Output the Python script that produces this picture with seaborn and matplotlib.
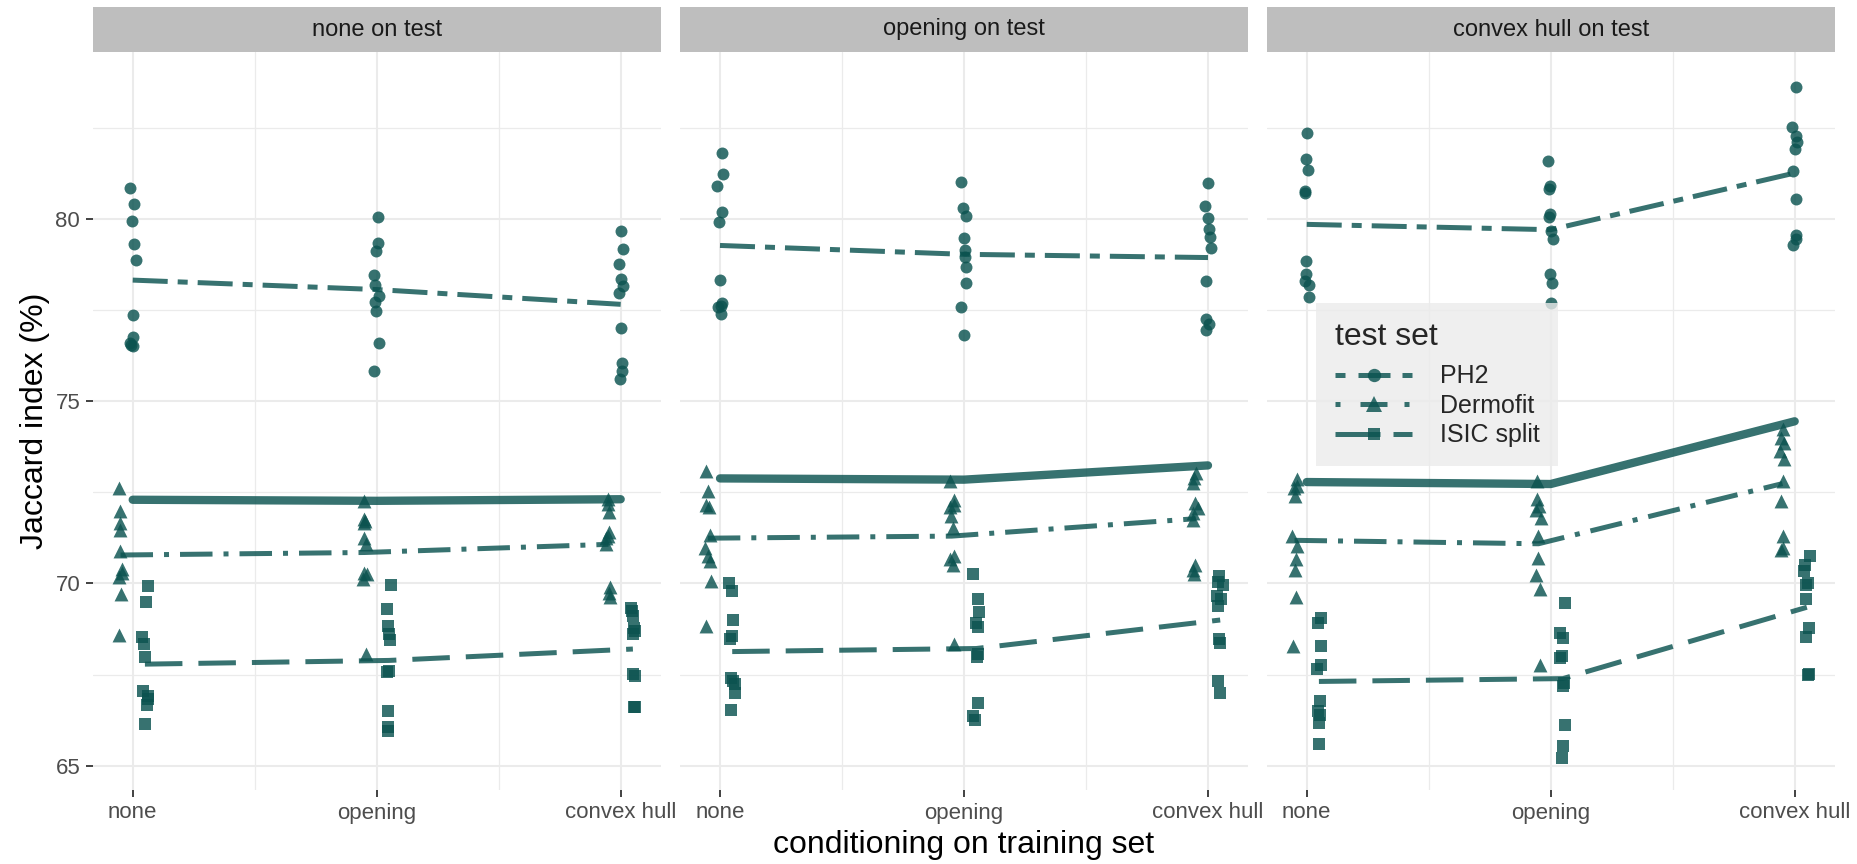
import numpy as np
import pandas as pd
import matplotlib
matplotlib.use("Agg")
import matplotlib.pyplot as plt
import seaborn as sns
from matplotlib.lines import Line2D

conditions = ["none", "opening", "convex hull"]
test_sets = ["PH2", "Dermofit", "ISIC split"]
panels = ["none on test", "opening on test", "convex hull on test"]

# Jaccard index (%) of the 10 runs, one list per training condition (none, opening, convex hull)
ph2_none = [[80.86, 80.43, 79.96, 79.31, 78.89, 77.38, 76.77, 76.61, 76.56, 76.51],
            [80.07, 79.35, 79.12, 78.47, 78.18, 77.88, 77.74, 77.47, 76.59, 75.82],
            [79.67, 79.18, 78.77, 78.36, 78.17, 77.97, 77.02, 76.05, 75.84, 75.60]]
derm_none = [[72.63, 71.99, 71.67, 71.46, 70.90, 70.39, 70.30, 70.18, 69.71, 68.58],
             [72.27, 71.76, 71.72, 71.67, 71.26, 71.08, 70.30, 70.26, 70.12, 68.06],
             [72.31, 72.18, 71.95, 71.40, 71.30, 71.26, 71.08, 69.89, 69.75, 69.62]]
isic_none = [[69.94, 69.48, 68.52, 68.34, 67.97, 67.06, 66.92, 66.83, 66.65, 66.14],
             [69.96, 69.30, 68.84, 68.61, 68.45, 67.61, 67.56, 66.51, 66.07, 65.96],
             [69.34, 69.25, 69.11, 68.79, 68.70, 68.61, 67.51, 67.47, 66.62, 66.60]]

ph2_opening = [[81.83, 81.24, 80.91, 80.21, 79.93, 78.33, 77.71, 77.62, 77.60, 77.41],
               [81.03, 80.30, 80.09, 79.48, 79.15, 78.95, 78.70, 78.26, 77.58, 76.82],
               [80.99, 80.35, 80.02, 79.74, 79.50, 79.22, 78.31, 77.26, 77.12, 76.96]]
derm_opening = [[73.08, 72.53, 72.16, 72.09, 71.34, 70.98, 70.75, 70.61, 70.06, 68.83],
                [72.80, 72.30, 72.16, 72.09, 71.84, 71.53, 70.75, 70.66, 70.52, 68.35],
                [73.03, 72.89, 72.76, 72.21, 72.07, 71.94, 71.73, 70.52, 70.38, 70.25]]
isic_opening = [[70.02, 69.79, 68.99, 68.56, 68.47, 67.40, 67.32, 67.23, 67.00, 66.52],
                [70.26, 69.56, 69.22, 68.92, 68.80, 68.05, 67.98, 66.73, 66.37, 66.25],
                [70.20, 70.05, 69.97, 69.65, 69.56, 69.38, 68.47, 68.37, 67.32, 67.00]]

ph2_hull = [[82.38, 81.65, 81.35, 80.78, 80.73, 78.85, 78.49, 78.30, 78.19, 77.86],
            [81.60, 80.92, 80.82, 80.14, 80.05, 79.68, 79.45, 78.49, 78.26, 77.71],
            [83.64, 82.52, 82.29, 82.11, 81.92, 81.33, 80.55, 79.57, 79.45, 79.29]]
derm_hull = [[72.86, 72.67, 72.63, 72.40, 71.30, 71.03, 70.66, 70.38, 69.63, 68.28],
             [72.81, 72.31, 72.12, 72.01, 71.80, 71.30, 70.71, 70.23, 69.84, 67.77],
             [74.23, 74.00, 73.86, 73.64, 73.41, 72.81, 72.26, 71.30, 70.98, 70.93]]
isic_hull = [[69.06, 68.92, 68.28, 67.77, 67.64, 66.77, 66.51, 66.38, 66.17, 65.60],
             [69.47, 68.64, 68.51, 68.00, 67.96, 67.27, 67.18, 66.11, 65.53, 65.21],
             [70.75, 70.52, 70.34, 70.02, 69.95, 69.56, 68.78, 68.53, 67.52, 67.50]]

results = {
    "none on test": {"PH2": ph2_none, "Dermofit": derm_none, "ISIC split": isic_none},
    "opening on test": {"PH2": ph2_opening, "Dermofit": derm_opening, "ISIC split": isic_opening},
    "convex hull on test": {"PH2": ph2_hull, "Dermofit": derm_hull, "ISIC split": isic_hull},
}

rows = []
for panel in panels:
    for ts in test_sets:
        for ci, vals in enumerate(results[panel][ts]):
            for v in vals:
                rows.append((panel, ts, ci + 1, v))
df = pd.DataFrame(rows, columns=["panel", "test set", "cond", "jaccard"])

# dodge per test set, like position_dodge in the original
dodge = {"PH2": 0.0, "Dermofit": -0.05, "ISIC split": 0.05}
df["xpos"] = df["cond"] + df["test set"].map(dodge)

teal = "#0b5350"
markers = {"PH2": "o", "Dermofit": "^", "ISIC split": "s"}
msizes = {"PH2": 8.6, "Dermofit": 10, "ISIC split": 8.3}
lines = {"PH2": (0, (7, 2, 2, 2)),
         "Dermofit": (0, (6.5, 2.2, 1, 2.2)),
         "ISIC split": (0, (7.5, 3.2))}
key_lines = {"PH2": (0, (2, 2.6, 6.4, 2.4, 2, 3)),
             "Dermofit": (0, (1, 4, 5.4, 3.4, 1, 4)),
             "ISIC split": (0, (9, 2.6, 4, 3))}

sns.set_style("white")
plt.rcParams["font.family"] = ["Liberation Sans", "DejaVu Sans"]

fig = plt.figure(figsize=(18.58, 8.64), dpi=100)
np.random.seed(7)

lefts = [92.7 / 1858, 680 / 1858, 1266.7 / 1858]
pw, pb, ph = 568 / 1858, 74 / 864, 738 / 864

for i, panel in enumerate(panels):
    ax = fig.add_axes([lefts[i], pb, pw, ph])
    sub = df[df["panel"] == panel]

    # mean over all test sets
    sns.lineplot(data=sub, x="cond", y="jaccard", estimator="mean", errorbar=None,
                 color=teal, lw=6, alpha=0.82, ax=ax)
    for ts in test_sets:
        s = sub[sub["test set"] == ts]
        sns.lineplot(data=s, x="xpos", y="jaccard", estimator="mean", errorbar=None,
                     color=teal, lw=3.6, alpha=0.82, linestyle=lines[ts], ax=ax)
        sns.stripplot(data=s, x="xpos", y="jaccard", native_scale=True, orient="x",
                      jitter=0.012, marker=markers[ts], size=msizes[ts], color=teal,
                      alpha=0.82, linewidth=0, ax=ax)

    ax.set_xlim(0.836, 3.164)
    ax.set_ylim(64.33, 84.59)
    ax.set_xticks([1, 2, 3])
    ax.set_xticklabels(conditions)
    ax.set_xticks([1.5, 2.5], minor=True)
    ax.set_yticks([65, 70, 75, 80])
    ax.set_yticks([67.5, 72.5, 77.5, 82.5], minor=True)
    ax.grid(which="major", color="#ebebeb", lw=1.5)
    ax.grid(which="minor", color="#ebebeb", lw=0.9)
    ax.set_axisbelow(True)
    for sp in ax.spines.values():
        sp.set_visible(False)
    ax.set_xlabel("")
    ax.set_ylabel("")
    ax.tick_params(axis="both", which="major", length=5, width=1.3, color="#333333",
                   labelsize=16, labelcolor="#4d4d4d", pad=4, bottom=True, left=True)
    ax.tick_params(which="minor", length=0)
    if i > 0:
        ax.tick_params(axis="y", left=False, labelleft=False)

    strip = fig.add_axes([lefts[i], 812 / 864, pw, 45 / 864])
    strip.set_facecolor("#bebebe")
    strip.set_xticks([])
    strip.set_yticks([])
    for sp in strip.spines.values():
        sp.set_visible(False)
    strip.text(0.5, 0.5, panel, ha="center", va="center", fontsize=17,
               color="#1a1a1a", transform=strip.transAxes)

fig.text((92.7 + 1835) / 2 / 1858, 0.022, "conditioning on training set",
         ha="center", va="center", fontsize=23, color="black")
fig.text(0.019, 0.5127, "Jaccard index (%)", ha="center", va="center",
         rotation=90, fontsize=23, color="black")

handles = [Line2D([], [], color=teal, lw=3.6, alpha=0.82, linestyle=key_lines[ts],
                  marker=markers[ts], markersize=msizes[ts] + 1, markeredgewidth=0)
           for ts in test_sets]
leg = fig.legend(handles, test_sets, title="test set", loc="upper left",
                 bbox_to_anchor=(1316 / 1858, 1 - 303 / 864), borderaxespad=0,
                 fontsize=18, title_fontsize=23, handlelength=3.1, handletextpad=1.1,
                 labelspacing=0.22, borderpad=0.75, alignment="left",
                 frameon=True, fancybox=False)
# a bit more room between the title and the keys
leg._legend_box.sep = 9
frame = leg.get_frame()
frame.set_facecolor("#ebebeb")
frame.set_edgecolor("none")
frame.set_alpha(0.8)

fig.savefig("out.png", dpi=100)
